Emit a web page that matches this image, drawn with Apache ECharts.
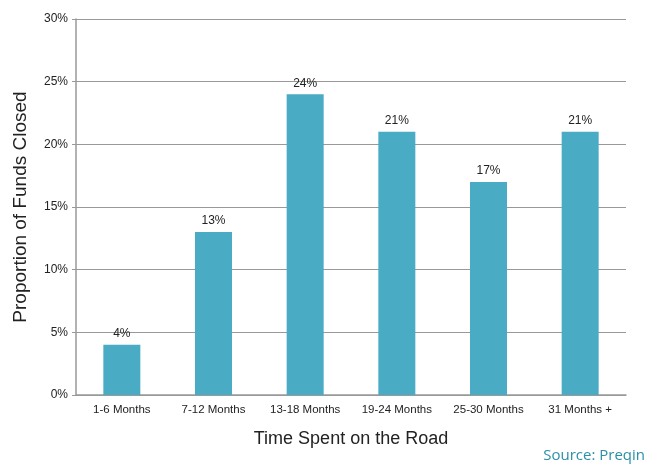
<!DOCTYPE html>
<html><head><meta charset="utf-8">
<script src="https://cdn.jsdelivr.net/npm/echarts@6/dist/echarts.min.js"></script>
<style>html,body{margin:0;padding:0;background:#fff}#c{width:651px;height:464px}</style>
</head><body><div id="c"></div>
<script>
const categories = ['1-6 Months','7-12 Months','13-18 Months','19-24 Months','25-30 Months','31 Months +'];
const values = [4, 13, 24, 21, 17, 21];
const chart = echarts.init(document.getElementById('c'));
chart.setOption({
  animation: false,
  grid: {left: 76, right: 25, top: 19, bottom: 69, containLabel: false, outerBoundsMode: 'none'},
  xAxis: {
    type: 'category', data: categories,
    name: 'Time Spent on the Road', nameLocation: 'middle', nameGap: 35,
    nameTextStyle: {fontSize: 18, color: '#222', fontFamily: 'Liberation Sans'},
    axisLine: {lineStyle: {color: '#999', width: 1.5}},
    axisTick: {show: false},
    axisLabel: {fontSize: 11.5, color: '#222', margin: 9, fontFamily: 'Liberation Sans', interval: 0}
  },
  yAxis: {
    type: 'value', min: 0, max: 30, interval: 5,
    name: 'Proportion of Funds Closed', nameLocation: 'middle', nameGap: 46,
    nameTextStyle: {fontSize: 19, color: '#222', fontFamily: 'Liberation Sans'},
    axisLine: {show: true, lineStyle: {color: '#999', width: 1.5}},
    axisTick: {show: true, length: 4, lineStyle: {color: '#999'}},
    axisLabel: {formatter: '{value}%', fontSize: 12, color: '#222', margin: 8, fontFamily: 'Liberation Sans'},
    splitLine: {lineStyle: {color: '#999', width: 1}}
  },
  series: [{
    type: 'bar', data: values, barWidth: 37,
    itemStyle: {color: '#4AABC5'},
    label: {show: true, position: 'top', formatter: '{c}%', fontSize: 12, color: '#222', distance: 5, fontFamily: 'Liberation Sans'}
  }],
  graphic: [{
    type: 'text', right: 6, bottom: 1,
    style: {text: 'Source: Preqin', fontSize: 15, fill: '#2a8fa8', fontFamily: 'Open Sans'}
  }]
});
</script></body></html>
